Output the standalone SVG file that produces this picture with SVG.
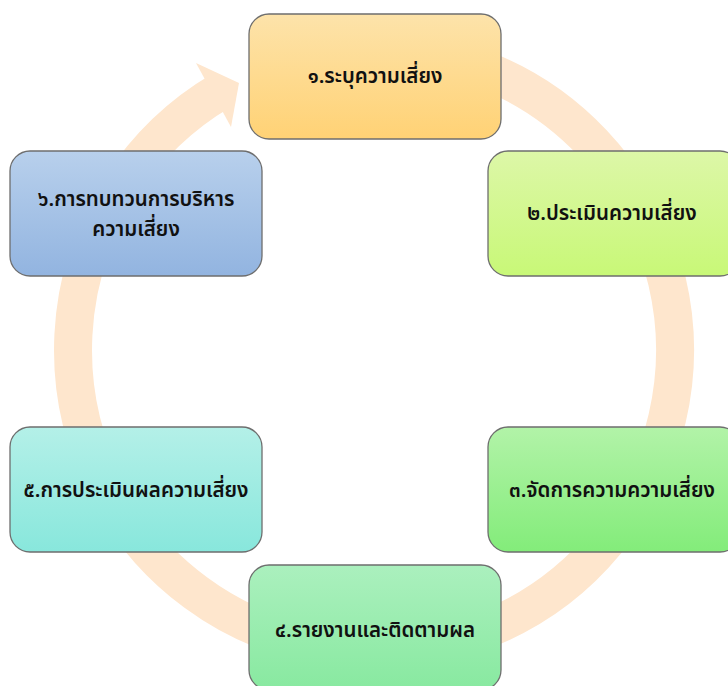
<svg xmlns="http://www.w3.org/2000/svg" width="728" height="686" viewBox="0 0 728 686">
<style>
.box{stroke:#6e6e6e;stroke-width:1.3}
.t{font-family:"Noto Sans Thai","Noto Sans","DejaVu Sans",sans-serif;font-size:20.5px;font-weight:600;fill:#111;text-anchor:middle;dominant-baseline:central}
</style>
<defs>
<linearGradient id="g1" x1="0" y1="0" x2="0" y2="1"><stop offset="0" stop-color="#fde3aa"/><stop offset="1" stop-color="#ffd275"/></linearGradient>
<linearGradient id="g2" x1="0" y1="0" x2="0" y2="1"><stop offset="0" stop-color="#ddf7a8"/><stop offset="1" stop-color="#c8f877"/></linearGradient>
<linearGradient id="g3" x1="0" y1="0" x2="0" y2="1"><stop offset="0" stop-color="#b2f3a8"/><stop offset="1" stop-color="#83ec7a"/></linearGradient>
<linearGradient id="g4" x1="0" y1="0" x2="0" y2="1"><stop offset="0" stop-color="#abf0be"/><stop offset="1" stop-color="#88e9a0"/></linearGradient>
<linearGradient id="g5" x1="0" y1="0" x2="0" y2="1"><stop offset="0" stop-color="#b4f0e8"/><stop offset="1" stop-color="#88e7dc"/></linearGradient>
<linearGradient id="g6" x1="0" y1="0" x2="0" y2="1"><stop offset="0" stop-color="#b8d0ec"/><stop offset="1" stop-color="#92b4e0"/></linearGradient>
</defs>
<rect width="728" height="686" fill="#ffffff"/>
<g id="connectors">
<path d="M321.7,53.6 A301,301 0 1 1 221.2,90.7" fill="none" stroke="#fee6cd" stroke-width="38"/>
<polygon points="196,63 239,83 231,127" fill="#fee6cd"/>
</g>
<g id="n1"><rect class="box" x="249" y="14" width="252" height="125" rx="20" fill="url(#g1)"/><text class="t" x="375" y="76">๑.ระบุความเสี่ยง</text></g>
<g id="n2"><rect class="box" x="488" y="151" width="252" height="125" rx="20" fill="url(#g2)"/><text class="t" x="612" y="213">๒.ประเมินความเสี่ยง</text></g>
<g id="n3"><rect class="box" x="488" y="427" width="252" height="125" rx="20" fill="url(#g3)"/><text class="t" x="612" y="490">๓.จัดการความความเสี่ยง</text></g>
<g id="n4"><rect class="box" x="249" y="565" width="252" height="125" rx="20" fill="url(#g4)"/><text class="t" x="375" y="630">๔.รายงานและติดตามผล</text></g>
<g id="n5"><rect class="box" x="10" y="427" width="252" height="125" rx="20" fill="url(#g5)"/><text class="t" x="136" y="490">๕.การประเมินผลความเสี่ยง</text></g>
<g id="n6"><rect class="box" x="10" y="151" width="252" height="125" rx="20" fill="url(#g6)"/><text class="t" x="136" y="199">๖.การทบทวนการบริหาร</text><text class="t" x="136" y="229">ความเสี่ยง</text></g>
</svg>
